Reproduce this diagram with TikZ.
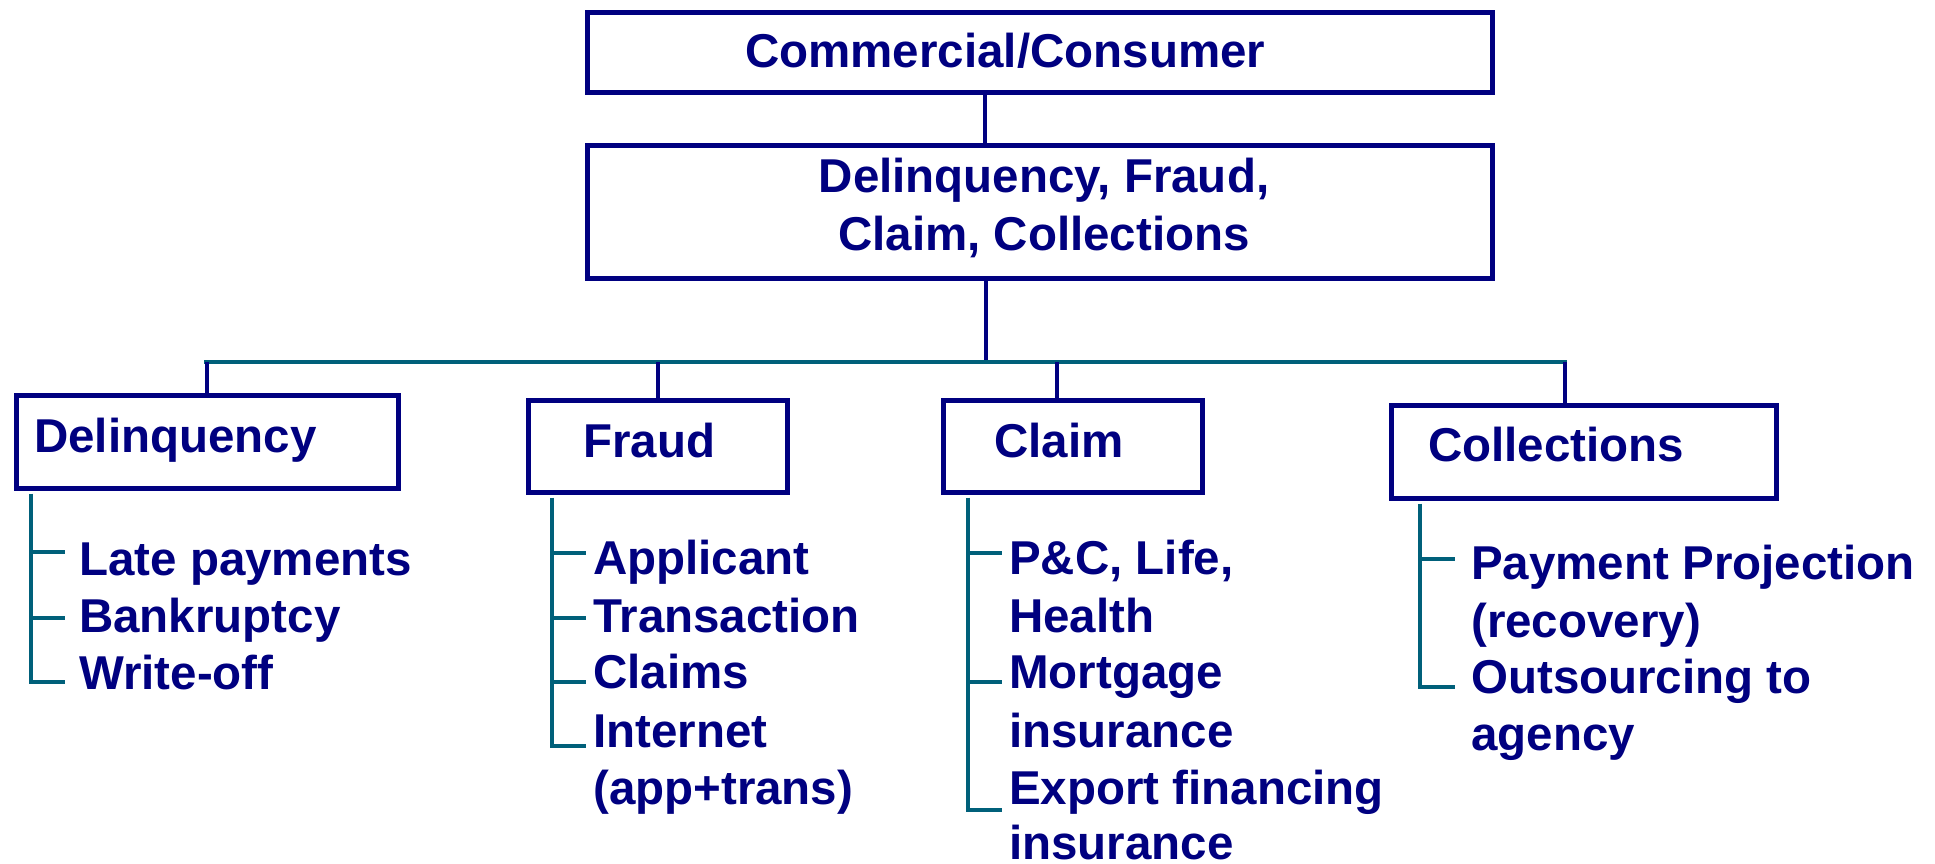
\documentclass[tikz,border=0pt]{standalone}
\usepackage{fontspec}
\setmainfont{Liberation Sans}
\definecolor{navy}{RGB}{0,0,128}
\definecolor{tealline}{RGB}{0,96,122}
\begin{document}
\begin{tikzpicture}[x=1pt,y=-1pt,
  box/.style={draw=navy, line width=4.5pt, fill=white, inner sep=0pt, anchor=north west},
  lbl/.style={font=\fontsize{47.5}{57}\selectfont\bfseries, text=navy, anchor=base west, inner sep=0pt},
  ctr/.style={lbl, anchor=base},
  drop/.style={draw=navy, line width=4pt},
  bus/.style={draw=tealline, line width=3.6pt},
  tree/.style={draw=tealline, line width=3.5pt}]
\useasboundingbox (0,0) rectangle (1935,863);

% boxes
\node[box, minimum width=905pt, minimum height=80pt] (top) at (585,10) {};
\node[box, minimum width=905pt, minimum height=133pt] (mid) at (585,143) {};
\node[box, minimum width=382pt, minimum height=93pt] (del) at (14,393) {};
\node[box, minimum width=259pt, minimum height=92pt] (fra) at (526,398) {};
\node[box, minimum width=259pt, minimum height=92pt] (cla) at (941,398) {};
\node[box, minimum width=385pt, minimum height=93pt] (col) at (1389,403) {};

% box texts
\node[lbl] (topT) at (745,67) {Commercial/Consumer};
\node[ctr] (midT1) at (1044,192) {Delinquency, Fraud,};
\node[ctr] (midT2) at (1044,250) {Claim, Collections};
\node[lbl] (delT) at (34,452) {Delinquency};
\node[lbl] (fraT) at (583,457) {Fraud};
\node[lbl] (claT) at (994,457) {Claim};
\node[lbl] (colT) at (1428,461) {Collections};

% connectors
\coordinate (j1) at (985,0);
\coordinate (busL) at (204,362);
\coordinate (busR) at (1567,362);
\coordinate (busJ) at (986,362);
\draw[drop] (top.south -| j1) -- (mid.north -| j1);
\draw[drop] (mid.south -| busJ) -- (busJ);
\draw[bus] (busL) -- (busR);
\draw[drop] (del.north) -- (del.north |- busL);
\draw[drop] (fra.north) -- (fra.north |- busL);
\draw[drop] (cla.north -| 1057,0) -- (1057,362);
\draw[drop] (col.north -| 1565,0) -- (1565,362);

% Delinquency tree
\coordinate (dE) at (31,682);
\draw[tree] ([yshift=-3pt]del.south -| dE) -- (dE) -- (65,682);
\foreach \y in {552,618} \draw[tree] (31,\y) -- (65,\y);
\node[lbl] (d1) at (79,575) {Late payments};
\node[lbl] (d2) at (79,632) {Bankruptcy};
\node[lbl] (d3) at (79,689) {Write-off};

% Fraud tree
\coordinate (fE) at (552,746);
\draw[tree] ([yshift=-3pt]fra.south -| fE) -- (fE) -- (586,746);
\foreach \y in {553,618,682} \draw[tree] (552,\y) -- (586,\y);
\node[lbl] (f1) at (593,574) {Applicant};
\node[lbl] (f2) at (593,632) {Transaction};
\node[lbl] (f3) at (593,688) {Claims};
\node[lbl] (f4) at (593,747) {Internet};
\node[lbl] (f5) at (593,804) {(app+trans)};

% Claim tree
\coordinate (cE) at (968,810);
\draw[tree] ([yshift=-3pt]cla.south -| cE) -- (cE) -- (1002,810);
\foreach \y in {553,682} \draw[tree] (968,\y) -- (1002,\y);
\node[lbl] (c1) at (1009,574) {P\&C, Life,};
\node[lbl] (c2) at (1009,632) {Health};
\node[lbl] (c3) at (1009,688) {Mortgage};
\node[lbl] (c4) at (1009,747) {insurance};
\node[lbl] (c5) at (1009,804) {Export financing};
\node[lbl] (c6) at (1009,859) {insurance};

% Collections tree
\coordinate (oE) at (1420,687);
\draw[tree] ([yshift=-3pt]col.south -| oE) -- (oE) -- (1455,687);
\draw[tree] (1420,559) -- (1455,559);
\node[lbl] (o1) at (1471,579) {Payment Projection};
\node[lbl] (o2) at (1471,637) {(recovery)};
\node[lbl] (o3) at (1471,693) {Outsourcing to};
\node[lbl] (o4) at (1471,750) {agency};
\end{tikzpicture}
\end{document}
